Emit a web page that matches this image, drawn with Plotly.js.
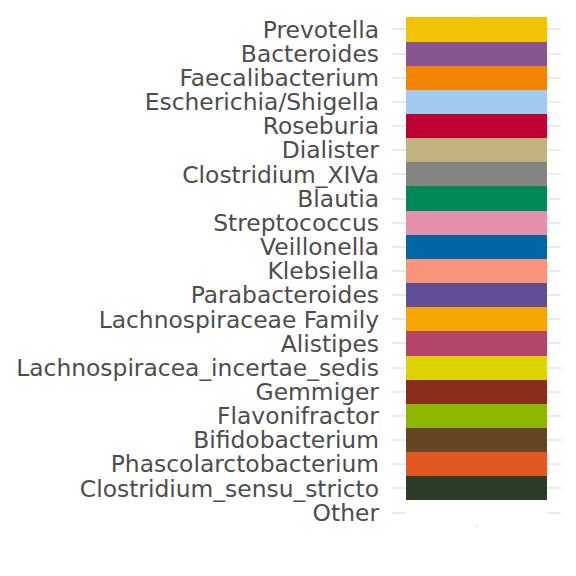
<!DOCTYPE html>
<html>
<head>
<meta charset="utf-8">
<script src="https://cdn.plot.ly/plotly-3.0.1.min.js"></script>
<style>html,body{margin:0;padding:0;background:#fff;}#chart{width:576px;height:576px;}</style>
</head>
<body>
<div id="chart"></div>
<script>
const genera = ["Prevotella","Bacteroides","Faecalibacterium","Escherichia/Shigella","Roseburia","Dialister","Clostridium_XIVa","Blautia","Streptococcus","Veillonella","Klebsiella","Parabacteroides","Lachnospiraceae Family","Alistipes","Lachnospiracea_incertae_sedis","Gemmiger","Flavonifractor","Bifidobacterium","Phascolarctobacterium","Clostridium_sensu_stricto","Other"];
const tileValues = [1,1,1,1,1,1,1,1,1,1,1,1,1,1,1,1,1,1,1,1,1];
const tileColors = ["#F3C300","#875692","#F38400","#A1CAF1","#BE0032","#C2B280","#848482","#008856","#E68FAC","#0067A5","#F99379","#604E97","#F6A600","#B3446C","#DCD300","#882D17","#8DB600","#654522","#E25822","#2B3D26","#FFFFFF"];

const trace = {
  type: "bar",
  orientation: "h",
  y: genera,
  x: tileValues,
  base: 0.5,
  width: 1,
  marker: {color: tileColors, line: {width: 0}},
  hoverinfo: "skip"
};

const layout = {
  width: 576, height: 576,
  margin: {l: 392, r: 15, t: 14.5, b: 48.5},
  paper_bgcolor: "#fff", plot_bgcolor: "#fff",
  showlegend: false,
  bargap: 0,
  font: {family: "DejaVu Sans", color: "#4d4d4d", size: 23.4},
  xaxis: {
    range: [0.4, 1.6], tickvals: [1], ticktext: [""],
    showgrid: true, gridcolor: "#ebebeb", gridwidth: 2,
    zeroline: false, showline: false, ticks: "", fixedrange: true
  },
  yaxis: {
    type: "category", categoryorder: "array", categoryarray: genera,
    tickmode: "array", tickvals: genera, ticktext: genera,
    range: [20.6, -0.6],
    showgrid: true, gridcolor: "#ebebeb", gridwidth: 2,
    zeroline: false, showline: false, ticks: "",
    ticklabelstandoff: 12,
    tickfont: {family: "DejaVu Sans", color: "#4d4d4d", size: 23.4}
  }
};

Plotly.newPlot("chart", [trace], layout, {displayModeBar: false, staticPlot: true});
</script>
</body>
</html>
